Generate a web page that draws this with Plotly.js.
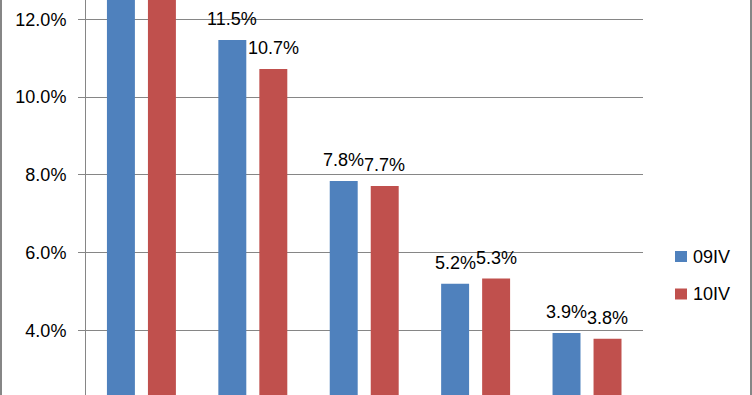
<!DOCTYPE html>
<html>
<head>
<meta charset="utf-8">
<script src="https://cdn.plot.ly/plotly-3.0.1.min.js"></script>
<style>
html,body{margin:0;padding:0;background:#fff;}
#wrap{position:relative;width:752px;height:395px;overflow:hidden;}
#chart{width:752px;height:395px;}
.bl{position:absolute;top:0;width:2px;height:395px;background:#868686;}
</style>
</head>
<body>
<div id="wrap">
<div id="chart"></div>
<div class="bl" style="left:0;"></div>
<div class="bl" style="left:750px;"></div>
</div>
<script>
var categories = ["A", "B", "C", "D", "E"];
var seriesNames = ["09IV", "10IV"];
var seriesColors = ["#4F81BD", "#C0504D"];
var series1 = [14.6, 11.47, 7.84, 5.2, 3.93];
var series2 = [13.9, 10.72, 7.71, 5.33, 3.78];

var W = 0.251, offs = [-0.312, 0.056];
var fontFam = "Liberation Sans, Arial, sans-serif";
var PL = 86, PW = 557, PH = 395;

var data = [series1, series2];
var traces = data.map(function(s, k){
  return {type:'bar', name:seriesNames[k], x:categories, y:s, width:W, offset:offs[k],
          marker:{color:seriesColors[k]}, hoverinfo:'none', showlegend:false};
});

var annotations = [];
var shapes = [];
data.forEach(function(s, k){
  s.forEach(function(v, i){
    annotations.push({x:i+offs[k]+W/2, y:v, xref:'x', yref:'y', text:v.toFixed(1)+'%',
      showarrow:false, yanchor:'bottom', yshift:9, font:{family:fontFam, size:18, color:'#000'}});
  });
  // manual legend (Excel style)
  var sqL = 675, sqT = 251 + k*37.5;
  shapes.push({type:'rect', xref:'paper', yref:'paper',
    x0:(sqL-PL)/PW, x1:(sqL+12-PL)/PW, y0:(PH-sqT-11)/PH, y1:(PH-sqT)/PH,
    fillcolor:seriesColors[k], line:{width:0}});
  annotations.push({xref:'paper', yref:'paper', x:(692-PL)/PW, y:(PH-sqT-5.5)/PH,
    xanchor:'left', yanchor:'middle', text:seriesNames[k], showarrow:false,
    font:{family:fontFam, size:18, color:'#000'}, borderpad:0});
});

var layout = {
  width:752, height:395,
  margin:{l:PL, r:752-PL-PW, t:0, b:0, pad:0},
  paper_bgcolor:'#fff', plot_bgcolor:'#fff',
  barmode:'overlay',
  showlegend:false,
  xaxis:{type:'category', range:[-0.5, 4.5], showticklabels:false, showgrid:false, zeroline:false, showline:false, ticks:''},
  yaxis:{range:[2.336, 12.497], dtick:2, tick0:0, ticksuffix:'%', tickformat:'.1f',
         showgrid:true, gridcolor:'#868686', gridwidth:1, zeroline:false,
         showline:true, linecolor:'#868686', linewidth:1,
         ticks:'outside', ticklen:7, tickcolor:'#868686', ticklabelstandoff:8,
         tickfont:{family:fontFam, size:18, color:'#000'}},
  annotations:annotations,
  shapes:shapes
};

Plotly.newPlot('chart', traces, layout, {displayModeBar:false, staticPlot:true});
</script>
</body>
</html>
